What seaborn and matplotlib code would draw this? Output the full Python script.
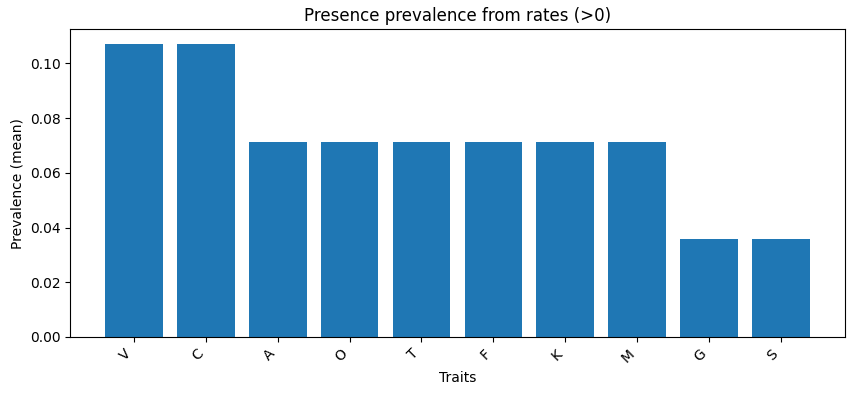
import seaborn as sns
import matplotlib.pyplot as plt
import pandas as pd

traits = ["V", "C", "A", "O", "T", "F", "K", "M", "G", "S"]
prevalence = [3/28, 3/28, 2/28, 2/28, 2/28, 2/28, 2/28, 2/28, 1/28, 1/28]

df = pd.DataFrame({"trait": traits, "prevalence": prevalence})

fig, ax = plt.subplots(figsize=(8.55, 3.95), dpi=100)
fig.subplots_adjust(left=0.082, right=0.988, top=0.926, bottom=0.147)

sns.barplot(ax=ax, x="trait", y="prevalence", data=df, color="#1f77b4",
            saturation=1, width=0.8)

n = len(traits)
ax.set_xlim(-0.89, n - 1 + 0.89)
ax.set_title("Presence prevalence from rates (>0)")
ax.set_xlabel("Traits")
ax.set_ylabel("Prevalence (mean)")
plt.setp(ax.get_xticklabels(), rotation=45, ha="right")

fig.savefig("out.png", dpi=100)
